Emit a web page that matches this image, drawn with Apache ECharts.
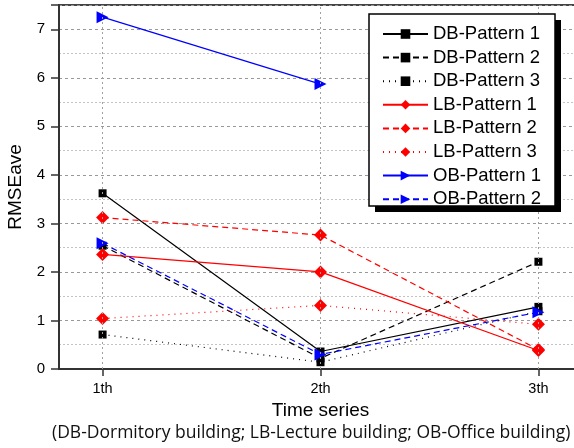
<!DOCTYPE html>
<html>
<head>
<meta charset="utf-8">
<script src="https://cdn.jsdelivr.net/npm/echarts@6/dist/echarts.min.js"></script>
<style>
  html, body { margin: 0; padding: 0; background: #fff; }
  #chart { width: 574px; height: 448px; }
</style>
</head>
<body>
<div id="chart"></div>
<script>
// Time-series positions and their labels
const steps = [1, 2, 3];
const stepLabels = ['1th', '2th', '3th'];

// RMSEave per building / pattern
const db1 = [3.62, 0.36, 1.28];
const db2 = [2.54, 0.22, 2.21];
const db3 = [0.71, 0.14, 1.19];
const lb1 = [2.36, 2.00, 0.38];
const lb2 = [3.12, 2.76, 0.40];
const lb3 = [1.04, 1.31, 0.92];
const ob1 = [7.25, 5.87];
const ob2 = [2.59, 0.30, 1.17];

const yTicks = [0, 1, 2, 3, 4, 5, 6, 7];

function pts(vals) {
  return vals.map((v, i) => [steps[i], v]);
}

const BLACK = '#000000', RED = '#ff0000', BLUE = '#0000ff';
const SOLID = 'solid', DASH = [6, 4], DOT = [1, 5];

function mk(name, vals, color, dash, symbol) {
  const s = {
    name: name,
    type: 'line',
    data: pts(vals),
    color: color,
    lineStyle: { color: color, width: 1.2, type: dash },
    itemStyle: { color: color },
    symbol: symbol,
    symbolSize: symbol === 'rect' ? 8 : (symbol === 'diamond' ? 13 : 12),
    showSymbol: true,
    animation: false,
    z: 3
  };
  if (symbol === 'triangle') s.symbolRotate = -90;
  return s;
}

const series = [
  mk('DB-Pattern 1', db1, BLACK, SOLID, 'rect'),
  mk('DB-Pattern 2', db2, BLACK, DASH, 'rect'),
  mk('DB-Pattern 3', db3, BLACK, DOT, 'rect'),
  mk('LB-Pattern 1', lb1, RED, SOLID, 'diamond'),
  mk('LB-Pattern 2', lb2, RED, DASH, 'diamond'),
  mk('LB-Pattern 3', lb3, RED, DOT, 'diamond'),
  mk('OB-Pattern 1', ob1, BLUE, SOLID, 'triangle'),
  mk('OB-Pattern 2', ob2, BLUE, DASH, 'triangle')
];

// vertical dotted guides at each time step
series.push({
  type: 'line',
  data: [],
  silent: true,
  animation: false,
  markLine: {
    silent: true,
    symbol: 'none',
    label: { show: false },
    lineStyle: { color: '#a0a0a0', type: [2, 3], width: 1 },
    data: steps.map(v => ({ xAxis: v }))
  },
  z: 1
});

const chart = echarts.init(document.getElementById('chart'), null, { renderer: 'canvas' });
chart.setOption({
  animation: false,
  backgroundColor: '#ffffff',
  textStyle: { fontFamily: 'Liberation Sans, Arial, sans-serif' },
  grid: {
    left: 59, top: 5, width: 523, height: 364,
    outerBoundsMode: 'none',
    containLabel: false,
    show: true, borderColor: '#444', borderWidth: 2, backgroundColor: 'transparent'
  },
  xAxis: {
    type: 'value',
    min: 0.8, max: 3.2,
    name: 'Time series',
    nameLocation: 'middle',
    nameGap: 31,
    nameTextStyle: { fontSize: 19, color: '#000', fontFamily: 'Liberation Sans' },
    axisLine: { show: true, onZero: false, lineStyle: { color: '#333', width: 2 } },
    axisTick: { show: true, length: 7, lineStyle: { color: '#333', width: 1.5 }, customValues: steps },
    axisLabel: {
      show: true, fontSize: 14.5, color: '#000', margin: 12,
      customValues: steps,
      formatter: v => stepLabels[steps.indexOf(Math.round(v))] || ''
    },
    splitLine: { show: false }
  },
  yAxis: {
    type: 'value',
    min: 0, max: 7.5, interval: 1,
    name: 'RMSEave',
    nameLocation: 'middle',
    nameGap: 27,
    nameTextStyle: { fontSize: 19, color: '#000', fontFamily: 'Liberation Sans' },
    axisLine: { show: true, lineStyle: { color: '#333', width: 2 } },
    axisTick: { show: true, inside: false, length: 8, lineStyle: { color: '#333', width: 1.5 } },
    axisLabel: {
      fontSize: 15, color: '#000', margin: 14,
      formatter: v => (yTicks.indexOf(v) >= 0 ? String(v) : '')
    },
    splitLine: { show: true, lineStyle: { color: '#999', type: [3, 3], width: 1 } },
    minorTick: { show: false, splitNumber: 2 },
    minorSplitLine: { show: true, lineStyle: { color: '#c4c4c4', type: [2, 2], width: 1 } }
  },
  legend: {
    show: true,
    orient: 'vertical',
    left: 382, top: 24,
    padding: 0,
    itemWidth: 45, itemHeight: 12,
    itemGap: 3.6,
    z: 8,
    textStyle: { fontSize: 18.5, color: '#000', lineHeight: 20, fontFamily: 'Liberation Sans' },
    data: series.slice(0, 8).map(s => s.name)
  },
  graphic: [
    {
      type: 'rect', z: 6, silent: true,
      shape: { x: 375, y: 20, width: 186, height: 192 },
      style: { fill: '#000' }
    },
    {
      type: 'rect', z: 7, silent: true,
      shape: { x: 369, y: 14, width: 186, height: 192 },
      style: { fill: '#fff', stroke: '#000', lineWidth: 1.5 }
    },
    {
      type: 'text',
      left: 52, top: 424,
      style: {
        text: '(DB-Dormitory building; LB-Lecture building; OB-Office building)',
        font: '17.5px "Open Sans", sans-serif',
        fill: '#111'
      }
    }
  ],
  series: series
});
</script>
</body>
</html>
